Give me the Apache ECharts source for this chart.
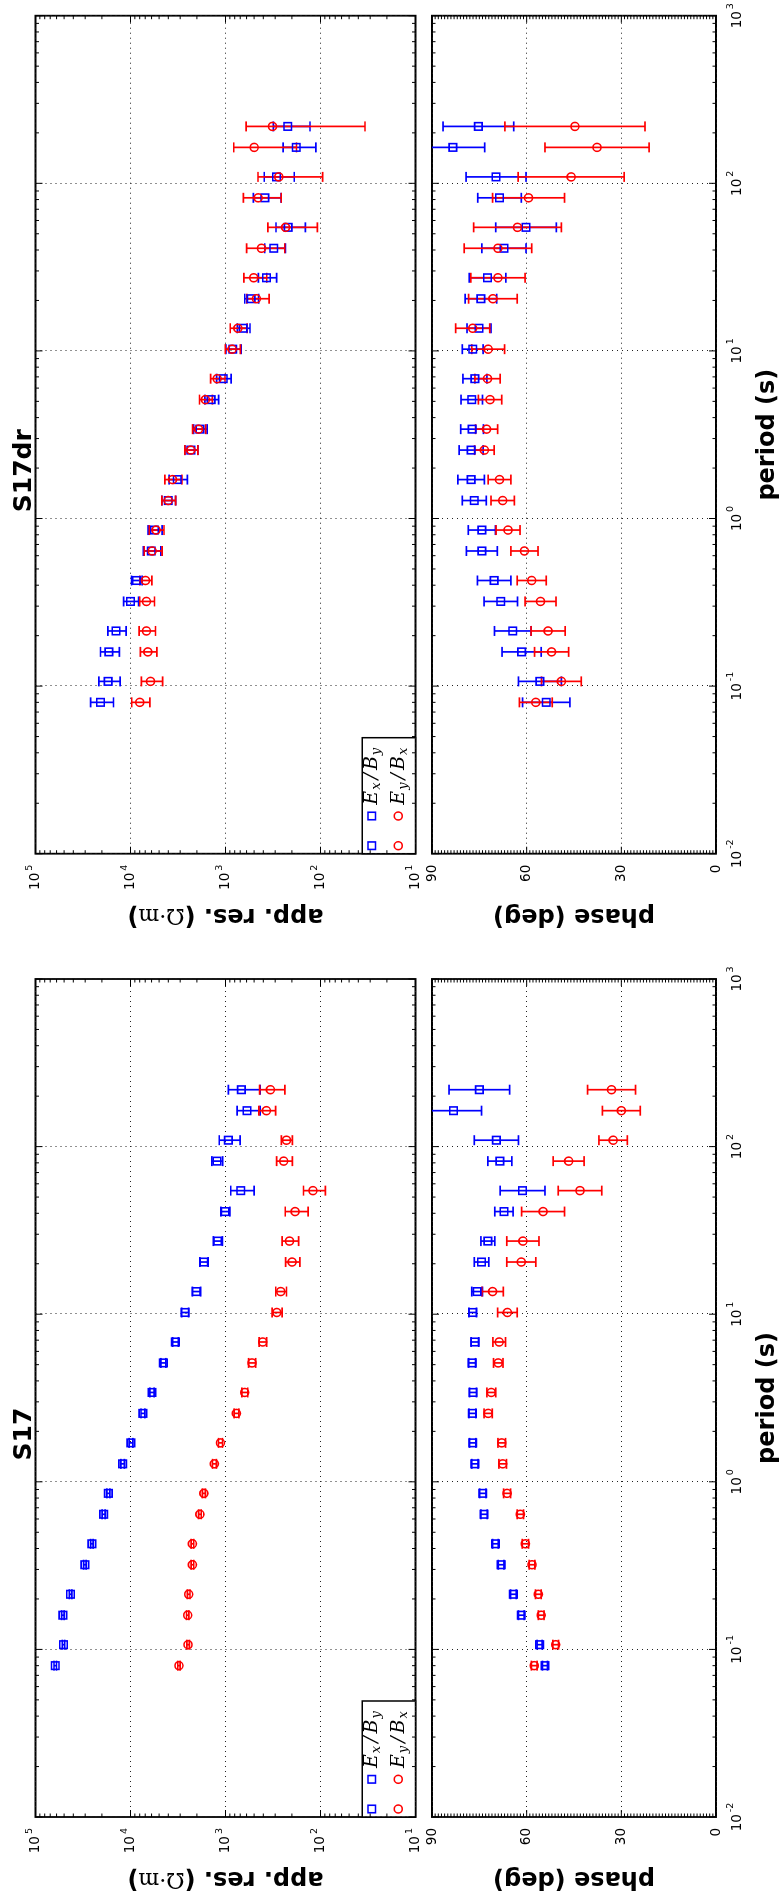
<!DOCTYPE html>
<html>
<head>
<meta charset="utf-8">
<script src="https://cdn.jsdelivr.net/npm/echarts@6/dist/echarts.min.js"></script>
<style>
  html, body { margin: 0; padding: 0; overflow: hidden; background: #fff; width: 781px; height: 1894px; }
  /* the figure is laid out landscape and turned a quarter turn counter-clockwise */
  #chart { position: absolute; left: 0; top: 0; width: 1894px; height: 781px;
           transform-origin: 0 0; transform: translate(0, 1894px) rotate(-90deg); }
</style>
</head>
<body>
<div id="chart"></div>
<script>
// ---- sounding periods (s) ----
const periods = [0.08, 0.1067, 0.16, 0.2133, 0.32, 0.4267, 0.64, 0.8533, 1.28, 1.707, 2.56, 3.413,
                 5.12, 6.827, 10.24, 13.65, 20.48, 27.31, 40.96, 54.61, 81.92, 109.2, 163.8, 218.5];

// ---- station S17 ----
const s17ResXY     = [62000, 50700, 51500, 42800, 30200, 25500, 19200, 17100, 12100, 9900, 7400, 5940,
                      4510, 3370, 2670, 2030, 1690, 1210, 1010, 690, 1230, 933, 593, 681];
const s17ResXYErr  = [1900, 1500, 1500, 1300, 900, 800, 700, 600, 500, 450, 350, 300,
                      270, 230, 220, 200, 170, 130, 110, 190, 160, 230, 160, 250];
const s17ResYX     = [3090, 2480, 2500, 2440, 2230, 2230, 1860, 1690, 1310, 1130, 768, 628,
                      526, 406, 288, 262, 199, 212, 185, 120, 244, 228, 371, 337];
const s17ResYXErr  = [90, 75, 75, 75, 70, 70, 60, 60, 60, 55, 45, 45,
                      45, 37, 35, 34, 34, 42, 50, 31, 46, 30, 74, 100];
const s17PhsXY     = [54.2, 55.9, 61.7, 64.2, 68.1, 69.9, 73.5, 73.9, 76.4, 77.1, 77.2, 77.0,
                      77.3, 76.4, 77.1, 75.7, 74.3, 72.3, 67.2, 61.3, 68.5, 69.6, 83.2, 75.0];
const s17PhsXYErr  = [0.8, 0.8, 0.9, 0.9, 0.9, 0.9, 1.0, 1.0, 1.0, 1.0, 1.1, 1.1,
                      1.1, 1.2, 1.2, 1.7, 2.3, 2.2, 2.9, 7.1, 3.8, 7.0, 8.9, 9.6];
const s17PhsYX     = [57.6, 50.8, 55.4, 56.3, 58.3, 60.4, 62.0, 66.2, 67.6, 67.9, 72.2, 71.2,
                      69.0, 68.7, 66.1, 70.8, 61.7, 61.2, 54.8, 43.1, 46.7, 32.6, 30.0, 33.1];
const s17PhsYXErr  = [0.9, 0.9, 0.9, 0.9, 0.9, 1.0, 1.0, 1.1, 1.2, 1.2, 1.3, 1.4,
                      1.5, 2.0, 3.1, 3.4, 4.6, 5.1, 6.8, 6.9, 4.9, 4.5, 6.0, 7.6];

// ---- station S17dr ----
const drResXY      = [20700, 17180, 16900, 14200, 10000, 8650, 6050, 5590, 4010, 3220, 2317, 1862,
                      1416, 1057, 838, 652, 537, 370, 310, 219, 385, 290, 180, 221];
const drResXYErr   = [5600, 4300, 3800, 3080, 1800, 1110, 1260, 940, 660, 700, 360, 300,
                      235, 185, 155, 100, 90, 80, 76, 75, 125, 101, 68, 92];
const drResYX      = [7980, 6150, 6570, 6790, 6790, 6950, 5910, 5380, 4010, 3610, 2317, 1920,
                      1627, 1222, 851, 741, 472, 504, 418, 233, 453, 275, 499, 320];
const drResYXErr   = [1720, 1550, 1300, 1335, 1200, 1000, 1260, 940, 660, 735, 360, 300,
                      250, 210, 155, 150, 125, 136, 180, 125, 194, 180, 320, 286];
const drPhsXY      = [53.8, 55.8, 61.6, 64.4, 68.2, 70.3, 74.2, 74.2, 76.6, 77.6, 77.6, 77.3,
                      77.4, 76.4, 77.1, 75.1, 74.5, 72.4, 67.2, 60.2, 68.6, 69.7, 83.4, 75.3];
const drPhsXYErr   = [7.5, 6.8, 6.2, 5.8, 5.3, 5.3, 4.9, 4.3, 3.8, 4.2, 3.8, 3.6,
                      3.4, 3.8, 3.3, 3.8, 5.0, 5.8, 7.0, 9.6, 6.9, 9.5, 10.1, 11.2];
const drPhsYX      = [57.1, 49.0, 52.1, 53.2, 55.6, 58.4, 60.7, 65.9, 67.6, 68.6, 73.4, 72.7,
                      71.6, 72.4, 72.2, 77.1, 70.7, 69.1, 69.1, 62.9, 59.4, 45.9, 37.7, 44.7];
const drPhsYXErr   = [5.2, 6.3, 5.4, 5.4, 4.9, 4.6, 4.3, 3.8, 3.7, 3.6, 3.1, 3.5,
                      3.7, 4.0, 5.2, 5.4, 7.7, 8.6, 10.7, 13.9, 11.4, 16.8, 16.5, 22.2];

// ---- axis ticks / labels ----
const periodDecades = [-2, -1, 0, 1, 2, 3];   // labels 10^k on the period axis
const resDecades    = [1, 2, 3, 4, 5];        // labels 10^k on the resistivity axis
const phaseTicks    = [0, 30, 60, 90];        // phase labels (deg)
const phaseMinorStep = 1;

const titles  = ['S17', 'S17dr'];
const legendNames = ['E_x/B_y', 'E_y/B_x'];

const BLUE = '#0000ff', RED = '#ff0000';
const FONT = 'DejaVu Sans';
const MAJOR = 7, MINOR = 3.5;

// layout (landscape, before the quarter turn)
const colLeft = [77, 1040.3];
const plotW = 838;
const resTop = 35.5, resH = 380;
const phsTop = 432, phsH = 284;

const rows = (vals, errs) => periods.map((t, i) => [t, vals[i], errs[i]]);

const supRich = {
  b: { fontFamily: FONT, fontSize: 13.5, lineHeight: 22, color: '#000' },
  s: { fontFamily: FONT, fontSize: 9.5, lineHeight: 6, verticalAlign: 'top', padding: [0, 0, 0, 2], color: '#000' }
};
const powLabel = v => '{b|10}{s|' + Math.round(Math.log10(v)) + '}';
const dotted = { show: true, lineStyle: { color: '#222', width: 1, type: [1, 4] } };

function errorBars(color) {
  return function (params, api) {
    const t = api.value(0), v = api.value(1), e = api.value(2);
    const hi = api.coord([t, v + e]);
    const lo = api.coord([t, Math.max(v - e, 1e-9)]);
    const cap = 5;
    const style = { stroke: color, lineWidth: 1.7, fill: null };
    return {
      type: 'group',
      children: [
        { type: 'line', shape: { x1: lo[0], y1: lo[1], x2: hi[0], y2: hi[1] }, style },
        { type: 'line', shape: { x1: lo[0] - cap, y1: lo[1], x2: lo[0] + cap, y2: lo[1] }, style },
        { type: 'line', shape: { x1: hi[0] - cap, y1: hi[1], x2: hi[0] + cap, y2: hi[1] }, style }
      ]
    };
  };
}

// inward major/minor ticks on all four sides of a panel
function frameTicks(kind) {
  return function (params, api) {
    const cs = params.coordSys;
    const x0 = cs.x, x1 = cs.x + cs.width, y0 = cs.y, y1 = cs.y + cs.height;
    const out = [];
    const st = { stroke: '#000', lineWidth: 1 };
    const seg = (ax, ay, bx, by) => out.push({ type: 'line', shape: { x1: ax, y1: ay, x2: bx, y2: by }, style: st });
    const yRef = kind === 'res' ? 100 : 45;
    periodDecades.forEach(k => {
      for (let m = 1; m <= 9; m++) {
        const t = m * Math.pow(10, k);
        if (t > 1000.0001) break;
        const x = api.coord([t, yRef])[0];
        const len = m === 1 ? MAJOR : MINOR;
        seg(x, y1, x, y1 - len);
        seg(x, y0, x, y0 + len);
      }
    });
    const hTick = (v, len) => {
      const y = api.coord([1, v])[1];
      seg(x0, y, x0 + len, y);
      seg(x1, y, x1 - len, y);
    };
    if (kind === 'res') {
      resDecades.forEach(k => {
        for (let m = 1; m <= 9; m++) {
          const v = m * Math.pow(10, k);
          if (v > 100000.01) break;
          hTick(v, m === 1 ? MAJOR : MINOR);
        }
      });
    } else {
      for (let v = 0; v <= 90; v += phaseMinorStep) {
        hTick(v, phaseTicks.indexOf(v) >= 0 ? MAJOR : MINOR);
      }
    }
    return { type: 'group', children: out };
  };
}

const grids = [], xAxes = [], yAxes = [], series = [], graphics = [];

const stations = [
  { resXY: s17ResXY, resXYErr: s17ResXYErr, resYX: s17ResYX, resYXErr: s17ResYXErr,
    phsXY: s17PhsXY, phsXYErr: s17PhsXYErr, phsYX: s17PhsYX, phsYXErr: s17PhsYXErr },
  { resXY: drResXY, resXYErr: drResXYErr, resYX: drResYX, resYXErr: drResYXErr,
    phsXY: drPhsXY, phsXYErr: drPhsXYErr, phsYX: drPhsYX, phsYXErr: drPhsYXErr }
];

stations.forEach((st, c) => {
  const left = colLeft[c];
  [['res', resTop, resH], ['phs', phsTop, phsH]].forEach(([kind, top, h]) => {
    const gi = grids.length;
    grids.push({ left, top, width: plotW, height: h, containLabel: false, outerBoundsMode: 'none',
                 show: true, borderColor: '#000', borderWidth: 1.8, backgroundColor: 'transparent' });
    xAxes.push({
      type: 'log', logBase: 10, gridIndex: gi, min: 0.01, max: 1000, splitNumber: 5,
      axisLine: { show: false }, axisTick: { show: false },
      axisLabel: { show: kind === 'phs', margin: 10, interval: 0, showMinLabel: true, showMaxLabel: true,
                   formatter: powLabel, rich: supRich },
      splitLine: dotted
    });
    if (kind === 'res') {
      yAxes.push({
        type: 'log', logBase: 10, gridIndex: gi, min: 10, max: 100000, splitNumber: 4,
        axisLine: { show: false }, axisTick: { show: false },
        axisLabel: { margin: 11, interval: 0, showMinLabel: true, showMaxLabel: true,
                     formatter: powLabel, rich: supRich },
        splitLine: dotted
      });
    } else {
      yAxes.push({
        type: 'value', gridIndex: gi, min: 0, max: 90, interval: 30,
        axisLine: { show: false }, axisTick: { show: false },
        axisLabel: { margin: 11, fontFamily: FONT, fontSize: 13.5, color: '#000',
                     formatter: v => (phaseTicks.indexOf(v) >= 0 ? String(v) : '') },
        splitLine: dotted
      });
    }
    const a = gi;
    const sets = kind === 'res'
      ? [[st.resXY, st.resXYErr, BLUE, 'rect', 7.5, legendNames[0]], [st.resYX, st.resYXErr, RED, 'circle', 8, legendNames[1]]]
      : [[st.phsXY, st.phsXYErr, BLUE, 'rect', 7.5, legendNames[0]], [st.phsYX, st.phsYXErr, RED, 'circle', 8, legendNames[1]]];
    sets.forEach(([vals, errs, color, sym, size, name]) => {
      const data = rows(vals, errs);
      series.push({
        type: 'custom', name, xAxisIndex: a, yAxisIndex: a, clip: true, silent: true,
        encode: { x: 0, y: 1 }, renderItem: errorBars(color), data
      });
      series.push({
        type: 'scatter', name, xAxisIndex: a, yAxisIndex: a, silent: true, clip: true,
        symbol: sym, symbolSize: size,
        itemStyle: { color: 'none', borderColor: color, borderWidth: 1.6, opacity: 1 },
        data: data.map(d => [d[0], d[1]])
      });
    });
    series.push({
      type: 'custom', xAxisIndex: a, yAxisIndex: a, silent: true, clip: false, z: 6,
      encode: { x: 0, y: 1 }, renderItem: frameTicks(kind),
      data: [[1, kind === 'res' ? 100 : 45]]
    });
  });

  // panel title, axis names
  const cx = left + plotW / 2;
  graphics.push({ type: 'text', x: cx - 36, y: 24.6, silent: true,
    style: { text: titles[c], fill: '#000', fontFamily: FONT, fontWeight: 'bold', fontSize: 25,
             align: 'center', verticalAlign: 'middle' } });
  graphics.push({ type: 'text', x: cx, y: 768, silent: true,
    style: { text: 'period (s)', fill: '#000', fontFamily: FONT, fontWeight: 'bold', fontSize: 24,
             align: 'center', verticalAlign: 'middle' } });
  graphics.push({ type: 'text', x: left - 61.5, y: resTop + resH / 2, rotation: Math.PI / 2, silent: true,
    style: { text: 'app. res. ({g|Ω·m})', fill: '#000', fontFamily: FONT, fontWeight: 'bold', fontSize: 24,
             align: 'center', verticalAlign: 'middle',
             rich: { g: { fontFamily: 'DejaVu Serif', fontWeight: 'normal', fontSize: 22, fill: '#000' } } } });
  graphics.push({ type: 'text', x: left - 61.5, y: phsTop + phsH / 2, rotation: Math.PI / 2, silent: true,
    style: { text: 'phase (deg)', fill: '#000', fontFamily: FONT, fontWeight: 'bold', fontSize: 24,
             align: 'center', verticalAlign: 'middle' } });

  // legend box in the lower-left corner of the resistivity panel
  const lx = left, ly = resTop + resH;
  const legRich = {
    m: { fontFamily: 'DejaVu Serif', fontStyle: 'italic', fontSize: 19, lineHeight: 22, fill: '#000' },
    sl: { fontFamily: 'DejaVu Serif', fontStyle: 'italic', fontSize: 19, lineHeight: 22, fill: '#000', padding: [0, 3, 0, 3] },
    s: { fontFamily: 'DejaVu Serif', fontStyle: 'italic', fontSize: 13, lineHeight: 6, verticalAlign: 'bottom', fill: '#000', padding: [0, 0, 0, 1] }
  };
  const legText = n => {
    const [num, den] = n.split('/');
    const [a1, a2] = num.split('_');
    const [b1, b2] = den.split('_');
    return `{m|${a1}}{s|${a2}}{sl|/}{m|${b1}}{s|${b2}}`;
  };
  graphics.push({
    type: 'group', x: lx, y: ly, silent: true, z: 50,
    children: [
      { type: 'rect', shape: { x: 0, y: -53.2, width: 116, height: 53.2 }, style: { fill: '#fff', stroke: '#000', lineWidth: 1.5 } },
      { type: 'rect', shape: { x: 8 - 3.75, y: -43.8 - 3.75, width: 7.5, height: 7.5 }, style: { fill: 'none', stroke: BLUE, lineWidth: 1.6 } },
      { type: 'rect', shape: { x: 37.7 - 3.75, y: -43.8 - 3.75, width: 7.5, height: 7.5 }, style: { fill: 'none', stroke: BLUE, lineWidth: 1.6 } },
      { type: 'circle', shape: { cx: 8, cy: -17.2, r: 4 }, style: { fill: 'none', stroke: RED, lineWidth: 1.6 } },
      { type: 'circle', shape: { cx: 37.7, cy: -17.2, r: 4 }, style: { fill: 'none', stroke: RED, lineWidth: 1.6 } },
      { type: 'text', x: 49, y: -43.5, style: { text: legText(legendNames[0]), rich: legRich, align: 'left', verticalAlign: 'middle' } },
      { type: 'text', x: 49, y: -16.8, style: { text: legText(legendNames[1]), rich: legRich, align: 'left', verticalAlign: 'middle' } }
    ]
  });
});

const chart = echarts.init(document.getElementById('chart'), null, { renderer: 'canvas', width: 1894, height: 781 });
chart.setOption({
  animation: false,
  backgroundColor: '#fff',
  textStyle: { fontFamily: FONT },
  grid: grids,
  xAxis: xAxes,
  yAxis: yAxes,
  series,
  graphic: graphics
});
</script>
</body>
</html>
